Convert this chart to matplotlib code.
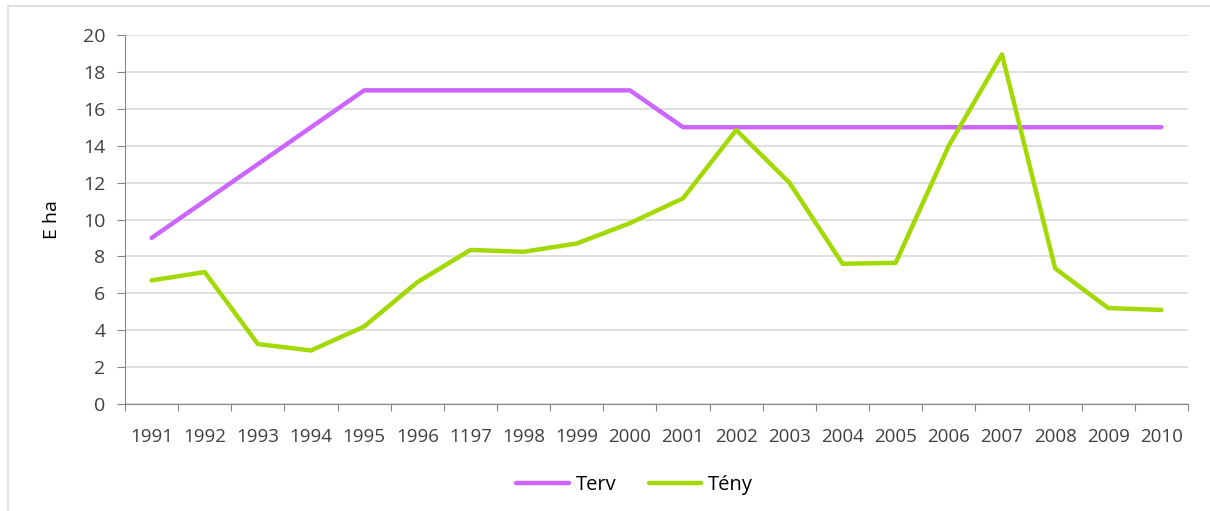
import matplotlib.pyplot as plt
from matplotlib.patches import Rectangle

# 데이터
years = ['1991', '1992', '1993', '1994', '1995', '1996', '1197', '1998', '1999', '2000',
         '2001', '2002', '2003', '2004', '2005', '2006', '2007', '2008', '2009', '2010']
terv = [9, 11, 13, 15, 17, 17, 17, 17, 17, 17, 15, 15, 15, 15, 15, 15, 15, 15, 15, 15]
teny = [6.7, 7.15, 3.25, 2.9, 4.2, 6.6, 8.35, 8.25, 8.7, 9.8,
        11.15, 14.85, 12.0, 7.6, 7.65, 14.0, 18.95, 7.35, 5.2, 5.1]

plt.rcParams['font.family'] = ['Open Sans', 'DejaVu Sans']

fig = plt.figure(figsize=(12.1, 5.11), dpi=100)
ax = fig.add_axes([0.1033, 0.2094, 0.8785, 0.7221])

x = list(range(len(years)))
ax.plot(x, terv, color='#cc66ff', linewidth=3.2, label='Terv', solid_capstyle='round')
ax.plot(x, teny, color='#a2d900', linewidth=3.2, label='Tény', solid_capstyle='round')

ax.set_xlim(-0.5, len(years) - 0.5)
ax.set_ylim(0, 20)
ax.set_yticks(range(0, 21, 2))
ax.set_xticks([i - 0.5 for i in range(len(years) + 1)])
ax.set_xticklabels([])
ax.set_xticks(x, minor=True)
ax.set_xticklabels(years, minor=True)
ax.tick_params(axis='x', which='minor', length=0, pad=17, labelsize=13.5, labelcolor='#404040')
ax.tick_params(axis='x', which='major', length=5, color='#868686', direction='out')
ax.tick_params(axis='y', length=6, color='#868686', labelsize=14, labelcolor='#404040', pad=8)

ax.grid(True, axis='y', color='#d9d9d9', linewidth=1.2)
ax.set_axisbelow(True)
for s in ['top', 'right']:
    ax.spines[s].set_visible(False)
ax.spines['left'].set_color('#868686')
ax.spines['bottom'].set_color('#868686')

ax.set_ylabel('E ha', fontsize=14, color='#000000', labelpad=16)

fig.legend(loc='center', bbox_to_anchor=(0.5244, 0.05), ncol=2, frameon=False,
           fontsize=14.5, handlelength=2.6, columnspacing=1.6, handletextpad=0.35)

# 차트 테두리
fig.patches.append(Rectangle((0.0066, -0.1), 1.2, 1.088, transform=fig.transFigure,
                             fill=False, edgecolor='#d9d9d9', linewidth=1.2))

fig.savefig('out.png', dpi=100)
